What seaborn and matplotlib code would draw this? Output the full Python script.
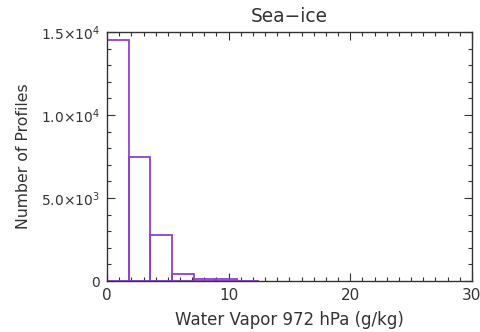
import numpy as np
import pandas as pd
import matplotlib
matplotlib.use("Agg")
import matplotlib.pyplot as plt
import seaborn as sns
from matplotlib.ticker import MultipleLocator

# Data
bin_edges = [0.0, 1.78, 3.56, 5.34, 7.12, 8.90, 10.68, 12.46]
counts = [14500, 7450, 2800, 400, 150, 100, 30]
title = "Sea\u2212ice"
xlabel = "Water Vapor 972 hPa (g/kg)"
ylabel = "Number of Profiles"
yticks = [0, 5000, 10000, 15000]
yticklabels = ["0", r"5.0$\times$10$^3$", r"1.0$\times$10$^4$", r"1.5$\times$10$^4$"]
xticks = [0, 10, 20, 30]

sns.set_style("ticks")
plt.rcParams['font.family'] = ['DejaVu Sans']

centers = [(bin_edges[i] + bin_edges[i + 1]) / 2 for i in range(len(counts))]
df = pd.DataFrame({"x": centers, "w": counts})

fig = plt.figure(figsize=(4.81, 3.32), dpi=100)
ax = fig.add_axes([0.2225, 0.1536, 0.7585, 0.75])

sns.histplot(data=df, x="x", weights="w", bins=bin_edges, element="bars",
             fill=False, color="#9040d0", linewidth=1.3, ax=ax)

ax.set_xlim(0, 30)
ax.set_ylim(0, 15000)
ax.set_xticks(xticks)
ax.set_xticklabels([str(t) for t in xticks], fontsize=11)
ax.set_yticks(yticks)
ax.set_yticklabels(yticklabels, fontsize=10)
ax.xaxis.set_minor_locator(MultipleLocator(1))
ax.yaxis.set_minor_locator(MultipleLocator(1000))
ax.tick_params(which="both", direction="in", top=True, right=True, color="#333333",
               labelcolor="#333333")
ax.tick_params(which="major", length=6, width=0.8, pad=5)
ax.tick_params(which="minor", length=3, width=0.8)
for s in ax.spines.values():
    s.set_visible(True)
    s.set_linewidth(1.0)
    s.set_color("#333333")

ax.set_title(title, fontsize=13.4, color="#333333", pad=7)
ax.set_xlabel(xlabel, fontsize=12, color="#333333", labelpad=6)
ax.set_ylabel(ylabel, fontsize=11.3, color="#333333", labelpad=7)

fig.savefig("out.png", dpi=100)
